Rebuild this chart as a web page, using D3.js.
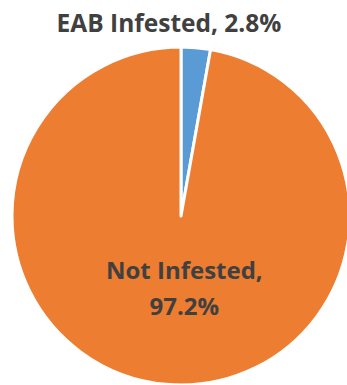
<!DOCTYPE html>
<html>
<head>
<meta charset="utf-8">
<script src="https://cdn.jsdelivr.net/npm/d3@7"></script>
<style>
  body { margin: 0; background: #fff; }
  svg { display: block; }
</style>
</head>
<body>
<div id="chart"></div>
<script>
const width = 347;
const height = 385;

// data
const categories = ["EAB Infested", "Not Infested"];
const values = [2.8, 97.2];
const colors = ["#5B9BD5", "#ED7D31"];

const cx = 181, cy = 216, radius = 169;

const svg = d3.select("#chart").append("svg")
    .attr("width", width)
    .attr("height", height);

const pie = d3.pie().sort(null).value(d => d.value);
const arc = d3.arc().innerRadius(0).outerRadius(radius);

const slices = pie(categories.map((c, i) => ({ name: c, value: values[i], color: colors[i] })));

const g = svg.append("g").attr("transform", `translate(${cx},${cy})`);

g.selectAll("path")
    .data(slices)
    .enter()
    .append("path")
    .attr("d", arc)
    .attr("fill", d => d.data.color)
    .attr("stroke", "#fff")
    .attr("stroke-width", 3)
    .attr("stroke-linejoin", "round");

const fontFamily = "'Open Sans', 'Liberation Sans', sans-serif";

// label for the small slice sits above the pie
svg.append("text")
    .attr("x", 169)
    .attr("y", 32)
    .attr("text-anchor", "middle")
    .style("font-family", fontFamily)
    .style("font-size", "24.5px")
    .style("font-weight", "bold")
    .style("fill", "#404040")
    .text(`${categories[0]}, ${values[0]}%`);

// label for the big slice, inside
const inner = d3.arc().innerRadius(radius * 0.45).outerRadius(radius * 0.45);
const c = inner.centroid(slices[1]);
const lbl = g.append("text")
    .attr("text-anchor", "middle")
    .attr("transform", `translate(${c[0] + 10},${c[1]})`)
    .style("font-family", fontFamily)
    .style("font-size", "24px")
    .style("font-weight", "bold")
    .style("fill", "#404040");

lbl.append("tspan").attr("x", 0).attr("y", -13).text(`${categories[1]},`);
lbl.append("tspan").attr("x", 0).attr("y", 23).text(`${values[1]}%`);
</script>
</body>
</html>
